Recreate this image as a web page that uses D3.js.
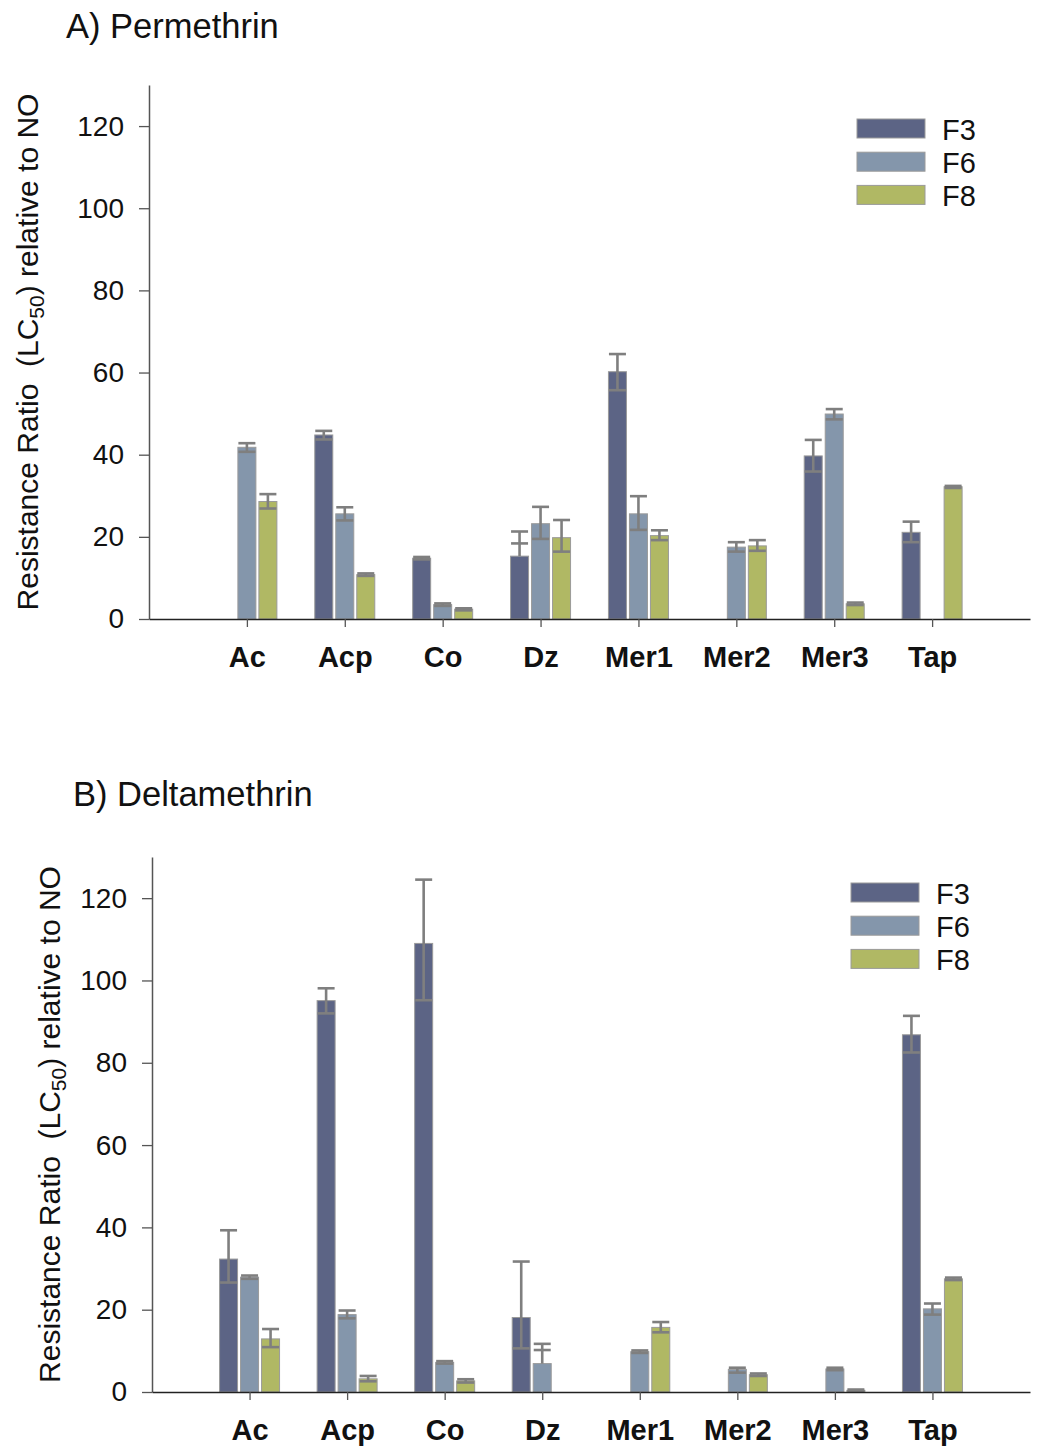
<!DOCTYPE html>
<html>
<head>
<meta charset="utf-8">
<script src="https://cdn.jsdelivr.net/npm/d3@7/dist/d3.min.js"></script>
<style>
  html, body { margin: 0; padding: 0; background: #ffffff; }
  svg { display: block; font-family: "Liberation Sans", Arial, sans-serif; }
</style>
</head>
<body>
<script>
// Strains tested and generations (F3, F6, F8)
const categories = ["Ac", "Acp", "Co", "Dz", "Mer1", "Mer2", "Mer3", "Tap"];
const generations = ["F3", "F6", "F8"];
const yTicks = [0, 20, 40, 60, 80, 100, 120];

// A) Permethrin: resistance ratio (null = not tested)
const permF3 = [null, 44.8, 14.8, 15.3, 60.2, null, 39.7, 21.1];
const permF6 = [41.8, 25.6, 3.5, 23.2, 25.6, 17.5, 49.9, null];
const permF8 = [28.6, 10.8, 2.4, 19.8, 20.3, 17.8, 3.7, 32.2];
// error bar caps [lower, upper]
const permF3Err = [null, [43.7, 45.8], [14.5, 15.1], [18.4, 21.3], [55.7, 64.5], null, [35.9, 43.6], [18.7, 23.7]];
const permF6Err = [[40.7, 42.8], [24.0, 27.2], [3.2, 3.8], [19.5, 27.3], [21.7, 29.9], [16.4, 18.7], [48.6, 51.1], null];
const permF8Err = [[26.9, 30.4], [10.5, 11.1], [2.1, 2.6], [16.4, 24.1], [19.2, 21.6], [16.6, 19.2], [3.4, 4.0], [31.9, 32.4]];

// B) Deltamethrin: resistance ratio (null = not tested)
const deltF3 = [32.3, 95.1, 109.0, 18.1, null, null, null, 86.8];
const deltF6 = [27.9, 18.8, 7.2, 6.9, 9.8, 5.5, 5.6, 20.2];
const deltF8 = [12.9, 3.2, 2.7, null, 15.7, 4.2, 0.4, 27.5];
const deltF3Err = [[26.6, 39.3], [92.0, 98.1], [95.2, 124.5], [10.6, 31.7], null, null, null, [82.5, 91.4]];
const deltF6Err = [[27.5, 28.3], [17.9, 19.8], [6.9, 7.5], [10.2, 11.7], [9.5, 10.1], [4.7, 5.9], [5.3, 5.9], [18.8, 21.5]];
const deltF8Err = [[10.9, 15.3], [2.6, 3.9], [2.3, 3.1], null, [14.5, 17.0], [3.9, 4.5], [0.2, 0.6], [27.2, 27.8]];

const colors = { F3: "#5c6485", F6: "#8496ab", F8: "#b0b864" };

const W = 1040, H = 1447;
const svg = d3.select("body").append("svg").attr("width", W).attr("height", H);
svg.append("rect").attr("width", W).attr("height", H).attr("fill", "#ffffff");

const panels = [
  {
    title: "A) Permethrin", titleX: 66, titleY: 38,
    left: 149, right: 1030, top: 85, bottom: 619, yTitleX: 38,
    legendX: 857, legendY: 119,
    series: [permF3, permF6, permF8], errs: [permF3Err, permF6Err, permF8Err]
  },
  {
    title: "B) Deltamethrin", titleX: 73, titleY: 806,
    left: 152, right: 1030, top: 857, bottom: 1392, yTitleX: 60,
    legendX: 851, legendY: 883,
    series: [deltF3, deltF6, deltF8], errs: [deltF3Err, deltF6Err, deltF8Err]
  }
];

panels.forEach(p => {
  const g = svg.append("g");

  const x = d3.scalePoint().domain(categories).range([p.left, p.right]).padding(1);
  const xs = d3.scaleBand().domain(generations).range([-30, 30]).paddingInner(1 / 7);
  const y = d3.scaleLinear().domain([0, 130]).range([p.bottom, p.top]);

  // panel title
  g.append("text").attr("x", p.titleX).attr("y", p.titleY)
    .attr("font-size", 34.5).attr("fill", "#111").text(p.title);

  // bars
  generations.forEach((gen, si) => {
    const vals = p.series[si];
    const errs = p.errs[si];
    const data = categories.map((c, i) => ({ c, v: vals[i], e: errs[i] })).filter(d => d.v != null);

    g.selectAll(null).data(data).enter().append("rect")
      .attr("x", d => x(d.c) + xs(gen))
      .attr("y", d => y(d.v))
      .attr("width", xs.bandwidth())
      .attr("height", d => y(0) - y(d.v))
      .attr("fill", colors[gen])
      .attr("stroke", "#9a9a9a")
      .attr("stroke-width", 1);

    // error bars: whisker and two caps
    const eg = g.selectAll(null).data(data.filter(d => d.e)).enter().append("g")
      .attr("stroke", "#7f7f7f").attr("stroke-width", 2.6).attr("fill", "none");
    const cx = d => x(d.c) + xs(gen) + xs.bandwidth() / 2;
    eg.append("line")
      .attr("x1", cx).attr("x2", cx)
      .attr("y1", d => y(Math.min(d.e[0], d.v)))
      .attr("y2", d => y(d.e[1]));
    [0, 1].forEach(k => {
      eg.append("line")
        .attr("x1", d => cx(d) - xs.bandwidth() / 2 + 0.5)
        .attr("x2", d => cx(d) + xs.bandwidth() / 2 - 0.5)
        .attr("y1", d => y(d.e[k])).attr("y2", d => y(d.e[k]));
    });
  });

  // y axis
  const yAxis = g.append("g").attr("transform", `translate(${p.left},0)`)
    .call(d3.axisLeft(y).tickValues(yTicks).tickSize(10).tickPadding(15).tickSizeOuter(0));
  yAxis.select(".domain").attr("stroke", "#555").attr("stroke-width", 1.5);
  yAxis.selectAll(".tick line").attr("stroke", "#555").attr("stroke-width", 1.3);
  yAxis.selectAll(".tick text").attr("font-size", 28).attr("fill", "#111")
    .attr("font-family", "Liberation Sans, Arial, sans-serif");

  // x axis
  const xAxis = g.append("g").attr("transform", `translate(0,${p.bottom})`)
    .call(d3.axisBottom(x).tickSize(8).tickPadding(19).tickSizeOuter(0));
  xAxis.select(".domain").attr("stroke", "#222").attr("stroke-width", 1.5);
  xAxis.selectAll(".tick line").attr("stroke", "#555").attr("stroke-width", 1.3);
  xAxis.selectAll(".tick text").attr("font-size", 29).attr("font-weight", "bold").attr("fill", "#111")
    .attr("font-family", "Liberation Sans, Arial, sans-serif");

  // y axis title with LC50 subscript
  const yt = g.append("text")
    .attr("transform", `translate(${p.yTitleX},${(p.top + p.bottom) / 2}) rotate(-90)`)
    .attr("text-anchor", "middle").attr("font-size", 30).attr("fill", "#111")
    .style("white-space", "pre");
  yt.append("tspan").text("Resistance Ratio  (LC");
  yt.append("tspan").attr("font-size", 21).attr("dy", 6).text("50");
  yt.append("tspan").attr("dy", -6).text(") relative to NO");

  // legend
  generations.forEach((gen, i) => {
    const ly = p.legendY + i * 33.2;
    g.append("rect").attr("x", p.legendX).attr("y", ly).attr("width", 68).attr("height", 19)
      .attr("fill", colors[gen]).attr("stroke", "#9a9a9a").attr("stroke-width", 1);
    g.append("text").attr("x", p.legendX + 85).attr("y", ly + 20.5)
      .attr("font-size", 29).attr("fill", "#111").text(gen);
  });
});
</script>
</body>
</html>
